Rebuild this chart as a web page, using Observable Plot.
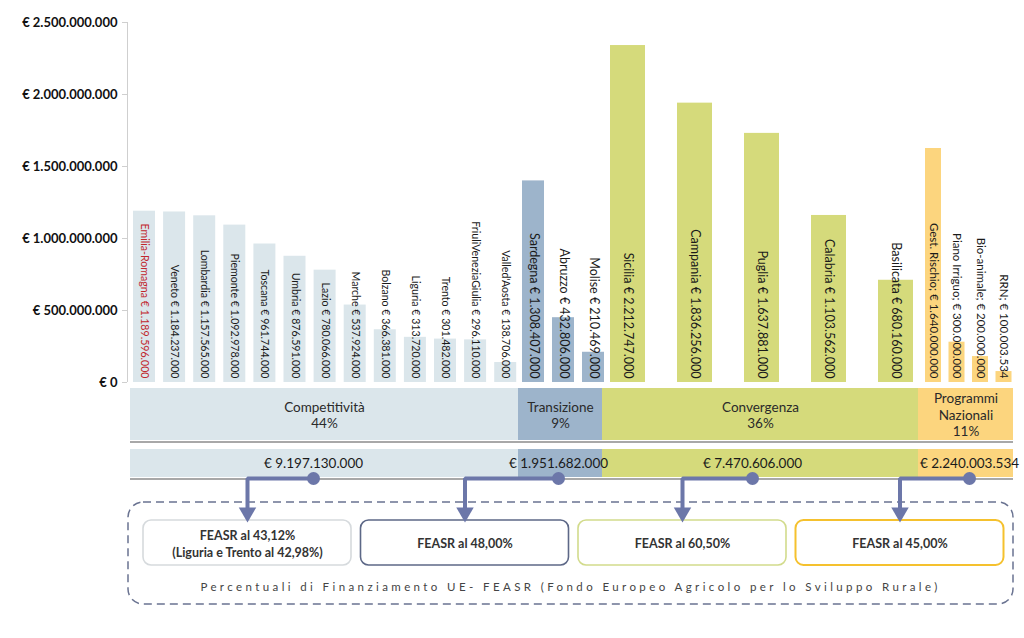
<!DOCTYPE html>
<html>
<head>
<meta charset="utf-8">
<script src="https://cdn.jsdelivr.net/npm/d3@7"></script>
<script src="https://cdn.jsdelivr.net/npm/@observablehq/plot@0.6"></script>
<style>
  html, body { margin: 0; padding: 0; background: #fff; }
  #chart { width: 1024px; }
  #chart svg { display: block; font-family: Lato, "DejaVu Sans", sans-serif; color: #111; background: transparent; }
</style>
</head>
<body>
<div id="chart"></div>
<script>
// ---------- DATA ----------
const compNames = ["Emilia-Romagna", "Veneto", "Lombardia", "Piemonte", "Toscana", "Umbria", "Lazio", "Marche", "Bolzano", "Liguria", "Trento", "FriuliVeneziaGiulia", "Valled'Aosta"];
const compAmounts = [1189596000, 1184237000, 1157565000, 1092978000, 961744000, 876591000, 780066000, 537924000, 366381000, 313720000, 301482000, 296110000, 138706000];
const compHeights = [1.1896e9, 1.1842e9, 1.1576e9, 1.093e9, 0.9617e9, 0.8766e9, 0.7801e9, 0.5379e9, 0.3664e9, 0.3137e9, 0.3015e9, 0.2961e9, 0.1387e9];

const transNames = ["Sardegna", "Abruzzo", "Molise"];
const transAmounts = [1308407000, 432806000, 210469000];
const transHeights = [1.40e9, 0.45e9, 0.21e9];

const convNames = ["Sicilia", "Campania", "Puglia", "Calabria", "Basilicata"];
const convAmounts = [2212747000, 1836256000, 1637881000, 1103562000, 680160000];
const convHeights = [2.34e9, 1.94e9, 1.73e9, 1.16e9, 0.71e9];

const progNames = ["Gest. Rischio;", "Piano Irriguo;", "Bio-animale;", "RRN;"];
const progAmounts = [1640000000, 300000000, 200000000, 100003534];
const progHeights = [1.625e9, 0.28e9, 0.18e9, 0.076e9];

const groupNames = ["Competitività", "Transizione", "Convergenza", "Programmi\nNazionali"];
const groupShares = ["44%", "9%", "36%", "11%"];
const groupTotals = [9197130000, 1951682000, 7470606000, 2240003534];
const feasrTexts = ["FEASR al 43,12%\n(Liguria e Trento al 42,98%)", "FEASR al 48,00%", "FEASR al 60,50%", "FEASR al 45,00%"];
const caption = "Percentuali di Finanziamento UE- FEASR (Fondo Europeo Agricolo per lo Sviluppo Rurale)";
const yTicks = [0, 5e8, 1e9, 1.5e9, 2e9, 2.5e9];

// ---------- STYLE / LAYOUT ----------
const fills = ["#dbe6eb", "#9db4cb", "#d5da7b", "#fcd57e"];
const boxStrokes = ["#d6dadd", "#5d6887", "#d2db8c", "#f5c12e"];
const hubColor = "#6c77a9";
const W = 1024, X0 = 127, X1 = 1013;
const layout = [
  {band: [130, 518], start: 133, step: 30.1, bw: 22, fs: 10.6, hub: 313},
  {band: [518, 602], start: 522, step: 30, bw: 22, fs: 12.5, hub: 558},
  {band: [602, 918], start: 610, step: 67, bw: 35, fs: 12.5, hub: 752},
  {band: [918, 1013], start: 925, step: 23.5, bw: 16, fs: 11.5, hub: 969}
];

const it = d3.formatLocale({decimal: ",", thousands: ".", grouping: [3], currency: ["€", ""]});
const fmt = it.format(",d");
const euro = v => v === 0 ? "€ 0" : "€ " + fmt(v);

const groupsData = [
  [compNames, compAmounts, compHeights],
  [transNames, transAmounts, transHeights],
  [convNames, convAmounts, convHeights],
  [progNames, progAmounts, progHeights]
];

const bars = [];
groupsData.forEach(([names, amounts, heights], g) => {
  const L = layout[g];
  names.forEach((n, i) => {
    const x1 = L.start + i * L.step;
    bars.push({
      group: g, name: n, value: heights[i],
      label: n + " € " + fmt(amounts[i]),
      x1, x2: x1 + L.bw, xc: x1 + L.bw / 2,
      color: (g === 0 && i === 0) ? "#c1272d" : "#1a1a1a"
    });
  });
});

// ---------- TOP PLOT (bars) ----------
const barPlot = Plot.plot({
  width: W, height: 394,
  marginLeft: X0, marginRight: W - X1, marginTop: 22, marginBottom: 12,
  x: {type: "linear", domain: [X0, X1], axis: null},
  y: {domain: [0, 2.5e9], axis: null},
  marks: [
    Plot.rectY(bars, {x1: "x1", x2: "x2", y: "value", fill: d => fills[d.group]}),
    Plot.ruleX([X0], {y1: 0, y2: 2.5e9, stroke: "#cfcfcf"}),
    Plot.ruleY(yTicks, {x1: X0 - 5, x2: X0, stroke: "#cfcfcf"}),
    Plot.text(yTicks, {x: X0, y: d => d, text: d => euro(d), textAnchor: "end", dx: -10, fontSize: 13, fontWeight: "bold", fill: "#111"}),
    ...[0, 1, 2, 3].map(g => Plot.text(bars.filter(b => b.group === g), {
      x: "xc", y: 0, text: "label", rotate: 90, textAnchor: "end", dy: -4,
      fontSize: layout[g].fs, fill: "color"
    }))
  ]
});

// ---------- BOTTOM PLOT (bands, connectors, FEASR boxes) ----------
const groups = groupNames.map((n, g) => ({
  g, x1: layout[g].band[0], x2: layout[g].band[1],
  mid: (layout[g].band[0] + layout[g].band[1]) / 2, hub: layout[g].hub,
  title: n + "\n" + groupShares[g], total: euro(groupTotals[g])
}));
const boxes = feasrTexts.map((t, i) => {
  const x1 = 143 + i * 217.5;
  return {i, x1, x2: x1 + 208, mid: x1 + 104, text: t};
});
const connectors = [];
groups.forEach((gr, i) => {
  const b = boxes[i];
  connectors.push({id: i, x: gr.hub, y: 92}, {id: i, x: b.mid, y: 92}, {id: i, x: b.mid, y: 122});
});

const flowPlot = Plot.plot({
  width: W, height: 252, margin: 0,
  x: {type: "linear", domain: [X0, X1], range: [X0, X1], axis: null},
  y: {type: "linear", domain: [0, 252], range: [0, 252], axis: null},
  marks: [
    Plot.rect(groups, {x1: "x1", x2: "x2", y1: 2, y2: 54, fill: d => fills[d.g]}),
    Plot.ruleY([55.5], {x1: 130, x2: X1, stroke: "#a8a8a8", strokeWidth: 2}),
    Plot.text(groups, {x: "mid", y: 28, text: "title", fontSize: 13.5, lineHeight: 1.22, fill: "#2a2a2a"}),
    Plot.rect(groups, {x1: "x1", x2: "x2", y1: 63, y2: 91, fill: d => fills[d.g]}),
    Plot.ruleY([92.5], {x1: 130, x2: X1, stroke: "#a8a8a8", strokeWidth: 2}),
    Plot.text(groups, {x: "hub", y: 77, text: "total", fontSize: 13.5, fill: "#1a1a1a"}),
    Plot.rect([0], {x1: 128, x2: X1, y1: 116, y2: 218, rx: 15, fill: "none", stroke: "#6a7391", strokeWidth: 1.5, strokeDasharray: "8,5"}),
    Plot.rect(boxes, {x1: "x1", x2: "x2", y1: 134, y2: 179, rx: 8, fill: "white", stroke: d => boxStrokes[d.i], strokeWidth: d => d.i === 3 ? 2 : 1.6}),
    Plot.text(boxes, {x: "mid", y: 156.5, text: "text", fontSize: 12.5, fontWeight: "bold", lineHeight: 1.35, fill: "#333"}),
    Plot.line(connectors, {x: "x", y: "y", z: "id", stroke: hubColor, strokeWidth: 4, strokeLinejoin: "miter"}),
    Plot.dot(boxes, {x: "mid", y: 126, symbol: "triangle", rotate: 180, r: 6.5, fill: hubColor, stroke: "none"}),
    Plot.dot(groups, {x: "hub", y: 92, r: 6.5, fill: hubColor, stroke: "none"}),
    Plot.text([caption], {x: 570, y: 201, text: d => d, fontSize: 11.5, fill: "#444"})
  ]
});

d3.select(flowPlot).selectAll("text").filter(function() { return this.textContent.startsWith("Percentuali"); })
  .style("letter-spacing", "3.4px");

flowPlot.style.marginTop = "-8px";
flowPlot.style.position = "relative";
const root = document.getElementById("chart");
root.appendChild(barPlot);
root.appendChild(flowPlot);
</script>
</body>
</html>
